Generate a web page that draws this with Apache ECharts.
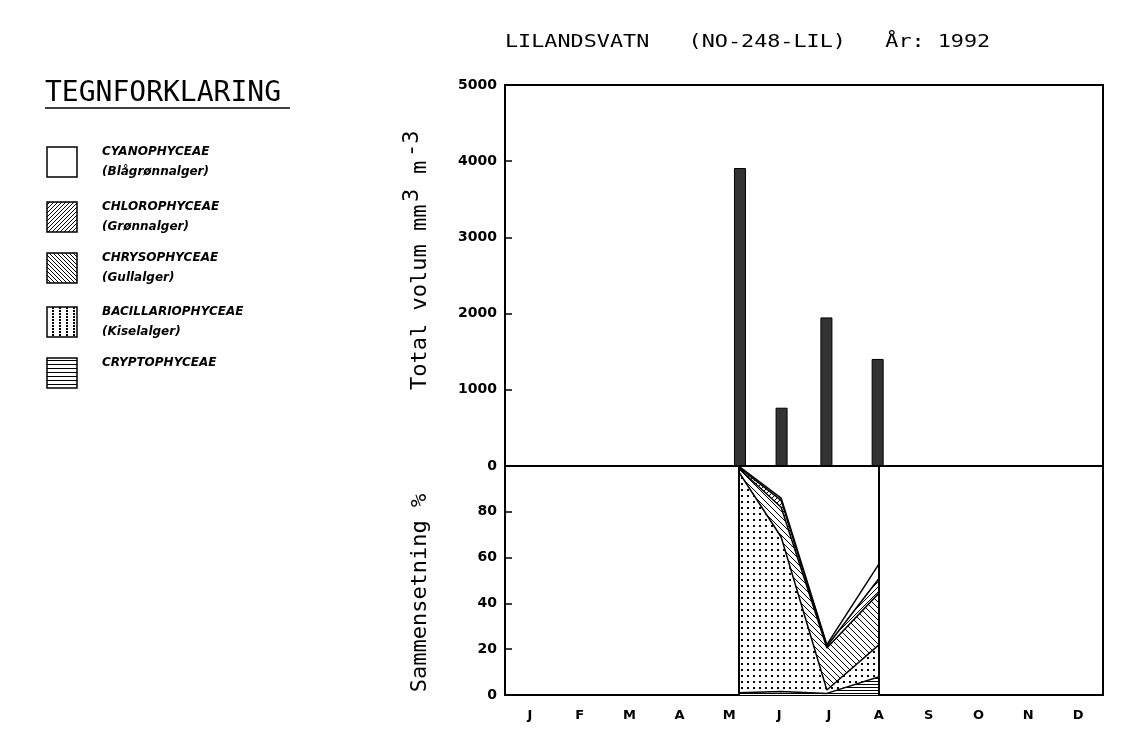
<!DOCTYPE html>
<html>
<head>
<meta charset="utf-8">
<script src="https://cdn.jsdelivr.net/npm/echarts@6/dist/echarts.min.js"></script>
<style>
html,body{margin:0;padding:0;background:#fff;}
#chart{width:1125px;height:735px;}
</style>
</head>
<body>
<div id="chart"></div>
<script>
// ---------- data ----------
const months = ['J','F','M','A','M','J','J','A','S','O','N','D'];
const sampleDates = ['1992-05-23','1992-06-18','1992-07-16','1992-08-17'];
const totalVolume = [3910, 765, 1950, 1405];           // mm3 m-3
// composition, % of total volume (stacked bottom -> top)
const cryptophyceae     = [1.0, 1.5, 0.7, 8.0];
const bacillariophyceae = [96.5, 67.5, 1.5, 14.0];
const chrysophyceae     = [1.5, 13.0, 18.3, 22.6];
const chlorophyceae     = [0.5, 3.0, 0.8, 6.4];
const cyanophyceae      = [0.5, 1.0, 0.7, 6.4];
const volumeTicks = [0, 1000, 2000, 3000, 4000, 5000];
const percentTicks = [0, 20, 40, 60, 80];
const yearStart = '1992-01-01', yearEnd = '1993-01-01';
const legendNames = ['CYANOPHYCEAE','CHLOROPHYCEAE','CHRYSOPHYCEAE','BACILLARIOPHYCEAE','CRYPTOPHYCEAE'];
const legendSub = ['(Blågrønnalger)','(Grønnalger)','(Gullalger)','(Kiselalger)',''];

// ---------- helpers ----------
function pattern(w, h, draw){
  const c = document.createElement('canvas'); c.width = w; c.height = h;
  const g = c.getContext('2d');
  g.fillStyle = '#fff'; g.fillRect(0, 0, w, h);
  g.strokeStyle = '#000'; g.fillStyle = '#000'; g.lineWidth = 1;
  draw(g);
  return { image: c, repeat: 'repeat' };
}
const slash = s => pattern(s, s, g => { g.beginPath(); g.moveTo(0, s); g.lineTo(s, 0); g.moveTo(-1, 1); g.lineTo(1, -1); g.moveTo(s-1, s+1); g.lineTo(s+1, s-1); g.stroke(); });
const backslash = s => pattern(s, s, g => { g.beginPath(); g.moveTo(0, 0); g.lineTo(s, s); g.moveTo(s-1, -1); g.lineTo(s+1, 1); g.moveTo(-1, s-1); g.lineTo(1, s+1); g.stroke(); });
const dots = (w, h) => pattern(w, h, g => { g.fillRect(Math.floor(w/2), Math.floor(h/2), 2, 2); });
const hlines = s => pattern(4, s, g => { g.fillRect(0, 0, 4, 1); });
const blank = pattern(2, 2, g => {});

const fills = [blank, slash(5), backslash(6), dots(6, 6), hlines(3)];
const legendFills = [blank, slash(4), backslash(4), dots(7, 3), hlines(4)];

const toPts = arr => arr.map((v, i) => [sampleDates[i], v]);

// ---------- layout ----------
const L = 505, W = 598, T0 = 85, H0 = 381, T1 = 466, H1 = 229;
const axisFont = { color: '#000', fontFamily: 'DejaVu Sans', fontWeight: 'bold', fontSize: 14 };
const blackLine = { lineStyle: { color: '#000', width: 2 } };

const layerSeries = [
  ['CRYPTOPHYCEAE', cryptophyceae, fills[4]],
  ['BACILLARIOPHYCEAE', bacillariophyceae, fills[3]],
  ['CHRYSOPHYCEAE', chrysophyceae, fills[2]],
  ['CHLOROPHYCEAE', chlorophyceae, fills[1]],
  ['CYANOPHYCEAE', cyanophyceae, fills[0]]
].map(([name, arr, fill], k) => ({
  name, type: 'line', xAxisIndex: 3, yAxisIndex: 1, stack: 'comp',
  data: toPts(arr), symbol: 'none', smooth: false,
  lineStyle: { color: '#000', width: 1.5 },
  areaStyle: { color: fill, opacity: 1 },
  z: 3,
  markLine: k === 4 ? {
    silent: true, symbol: ['none', 'none'], label: { show: false },
    lineStyle: { color: '#000', type: 'solid', width: 2 },
    data: [{ xAxis: sampleDates[0] }, { xAxis: sampleDates[sampleDates.length - 1] }]
  } : undefined
}));

// ---------- graphic (titles, legend) ----------
const mono = '"DejaVu Sans Mono"';
const graphic = [];
graphic.push({ type: 'text', x: 505, y: 42, scaleX: 1.21, style: {
  text: 'LILANDSVATN   (NO-248-LIL)   År: 1992', x: 0, y: 0,
  font: '18px ' + mono, fill: '#000', align: 'left', textAlign: 'left', verticalAlign: 'middle', textVerticalAlign: 'middle' } });
graphic.push({ type: 'text', x: 45, y: 94, style: {
  text: 'TEGNFORKLARING', font: '28px ' + mono, fill: '#000', align: 'left', textAlign: 'left', verticalAlign: 'middle', textVerticalAlign: 'middle' } });
graphic.push({ type: 'line', shape: { x1: 45, y1: 108, x2: 290, y2: 108 }, style: { stroke: '#000', lineWidth: 1.5 } });
const boxTops = [147, 202, 253, 307, 358];
legendNames.forEach((n, i) => {
  graphic.push({ type: 'rect', shape: { x: 47, y: boxTops[i], width: 30, height: 30 },
    style: { fill: legendFills[i], stroke: '#000', lineWidth: 1.5 } });
  graphic.push({ type: 'text', x: 102, y: boxTops[i] + 5, style: { text: n,
    font: 'italic bold 12px "DejaVu Sans"', fill: '#000', align: 'left', textAlign: 'left', verticalAlign: 'middle', textVerticalAlign: 'middle' } });
  if (legendSub[i]) graphic.push({ type: 'text', x: 102, y: boxTops[i] + 25, style: { text: legendSub[i],
    font: 'italic bold 12px "DejaVu Sans"', fill: '#000', align: 'left', textAlign: 'left', verticalAlign: 'middle', textVerticalAlign: 'middle' } });
});
const tstyle = (t, x, y) => ({ type: 'text', x, y, style: { text: t, font: '22px ' + mono, fill: '#000',
  align: 'left', textAlign: 'left', verticalAlign: 'middle', textVerticalAlign: 'middle' } });
graphic.push({ type: 'group', x: 420, y: 390, rotation: Math.PI / 2, children: [
  tstyle('Total volum mm', 0, 0), tstyle('3', 188, -8), tstyle('m', 216, 0), tstyle('-3', 233, -8)
] });
graphic.push({ type: 'text', x: 420, y: 593, rotation: Math.PI / 2, style: { text: 'Sammensetning %', font: '22px ' + mono, fill: '#000',
  align: 'center', textAlign: 'center', verticalAlign: 'middle', textVerticalAlign: 'middle' } });

const option = {
  animation: false,
  backgroundColor: '#fff',
  grid: [
    { left: L, top: T0, width: W, height: H0, show: true, borderColor: '#000', borderWidth: 2, backgroundColor: 'transparent' },
    { left: L, top: T1, width: W, height: H1, show: true, borderColor: '#000', borderWidth: 2, backgroundColor: 'transparent' }
  ],
  xAxis: [
    { gridIndex: 0, type: 'category', data: months, position: 'top', boundaryGap: true,
      axisLine: blackLine, axisTick: { inside: true, length: 5, alignWithLabel: false, lineStyle: { color: '#000', width: 1.5 } },
      axisLabel: { show: false }, splitLine: { show: false } },
    { gridIndex: 0, type: 'time', min: yearStart, max: yearEnd, position: 'bottom', show: false },
    { gridIndex: 1, type: 'category', data: months, position: 'bottom', boundaryGap: true,
      axisLine: blackLine, axisTick: { inside: false, length: 7, alignWithLabel: false, lineStyle: { color: '#000', width: 1.5 } },
      axisLabel: { margin: 14, fontSize: 13, color: '#000', fontFamily: 'DejaVu Sans', fontWeight: 'bold' }, splitLine: { show: false } },
    { gridIndex: 1, type: 'time', min: yearStart, max: yearEnd, position: 'top', show: false }
  ],
  yAxis: [
    { gridIndex: 0, type: 'value', min: volumeTicks[0], max: volumeTicks[volumeTicks.length - 1], interval: volumeTicks[1] - volumeTicks[0],
      axisLine: Object.assign({ show: true }, blackLine), axisTick: { show: true, inside: true, length: 7, lineStyle: { color: '#000', width: 1.5 } },
      axisLabel: Object.assign({ margin: 8, formatter: v => String(v) }, axisFont), splitLine: { show: false } },
    { gridIndex: 1, type: 'value', min: 0, max: 100, interval: percentTicks[1] - percentTicks[0],
      axisLine: Object.assign({ show: true }, blackLine), axisTick: { show: true, inside: true, length: 7, lineStyle: { color: '#000', width: 1.5 } },
      axisLabel: Object.assign({ margin: 8, formatter: v => percentTicks.indexOf(v) >= 0 ? String(v) : '' }, axisFont), splitLine: { show: false } }
  ],
  series: [
    { name: 'Total volum', type: 'bar', xAxisIndex: 1, yAxisIndex: 0, barWidth: 12,
      data: toPts(totalVolume), itemStyle: { color: '#333', borderColor: '#000', borderWidth: 1 } }
  ].concat(layerSeries),
  graphic
};
const chart = echarts.init(document.getElementById('chart'), null, { renderer: 'canvas' });
chart.setOption(option);
</script>
</body>
</html>
